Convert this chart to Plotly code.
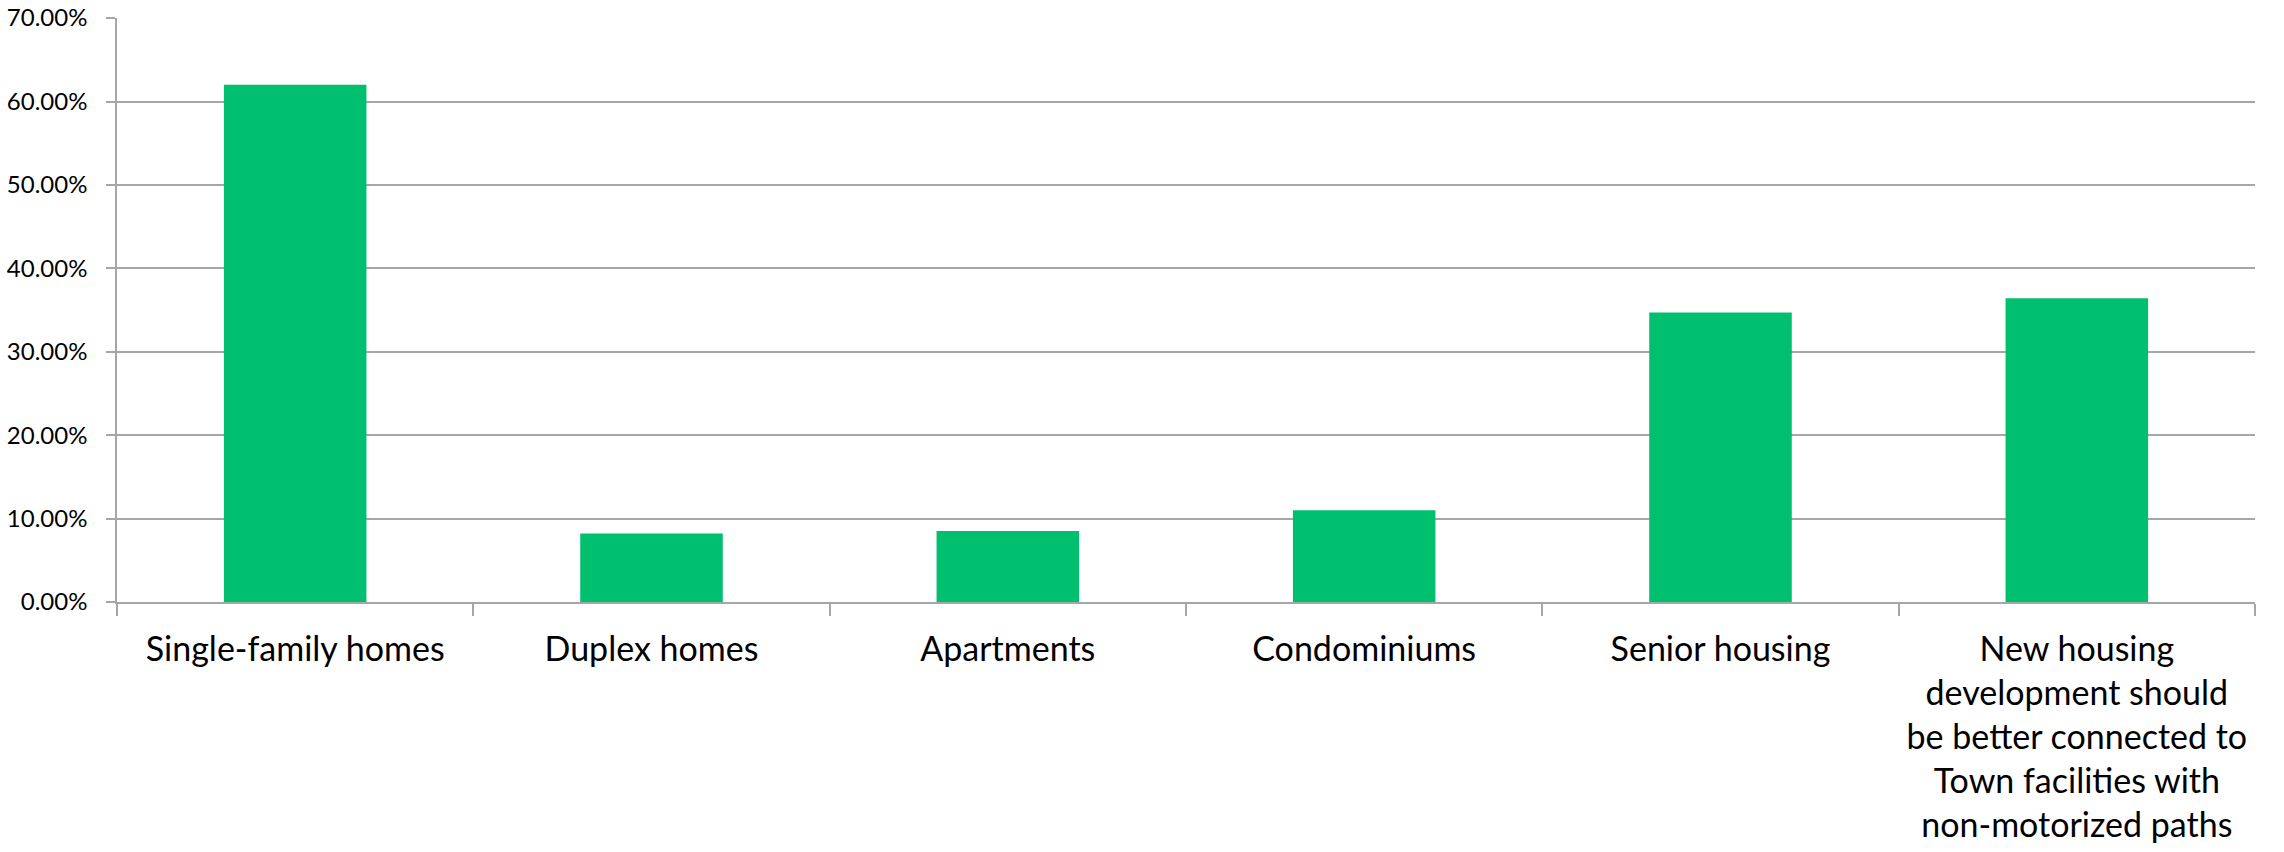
import plotly.graph_objects as go

categories = [
    "Single-family homes",
    "Duplex homes",
    "Apartments",
    "Condominiums",
    "Senior housing",
    "New housing<br>development should<br>be better connected to<br>Town facilities with<br>non-motorized paths",
]
values = [62.0, 8.2, 8.5, 11.0, 34.7, 36.4]
y_ticks = [0, 10, 20, 30, 40, 50, 60, 70]

BAR = "#00BF6F"
GRID = "#A6A6A6"
FONT = "Lato"

fig = go.Figure(
    go.Bar(x=categories, y=values, marker=dict(color=BAR, line=dict(width=0)), width=0.4)
)

fig.update_layout(
    width=2284,
    height=852,
    margin=dict(l=117, r=29, t=18, b=250),
    paper_bgcolor="white",
    plot_bgcolor="white",
    showlegend=False,
    font=dict(family=FONT, color="black"),
    bargap=0.6,
)

fig.update_yaxes(
    range=[0, 70.01],
    tickvals=y_ticks,
    ticktext=[f"{v:.2f}%" for v in y_ticks],
    showgrid=True,
    gridcolor=GRID,
    gridwidth=1.5,
    showline=True,
    linecolor=GRID,
    linewidth=1.5,
    ticks="outside",
    ticklen=9,
    tickcolor=GRID,
    tickwidth=1.5,
    tickfont=dict(family=FONT, size=24, color="black"),
    zeroline=False,
    ticklabelstandoff=14,
    ticklabeloverflow="allow",
    automargin=False,
)

fig.update_xaxes(
    showline=True,
    linecolor=GRID,
    linewidth=1.5,
    ticks="outside",
    tickson="boundaries",
    ticklen=12,
    tickcolor=GRID,
    tickwidth=1.5,
    tickfont=dict(family=FONT, size=34, color="black"),
    tickangle=0,
    ticklabelstandoff=16,
    ticklabeloverflow="allow",
    automargin=False,
)

fig.write_html(
    "out.html",
    config={"displayModeBar": False},
    post_script="document.body.style.margin='0';document.body.style.overflow='hidden';",
)
